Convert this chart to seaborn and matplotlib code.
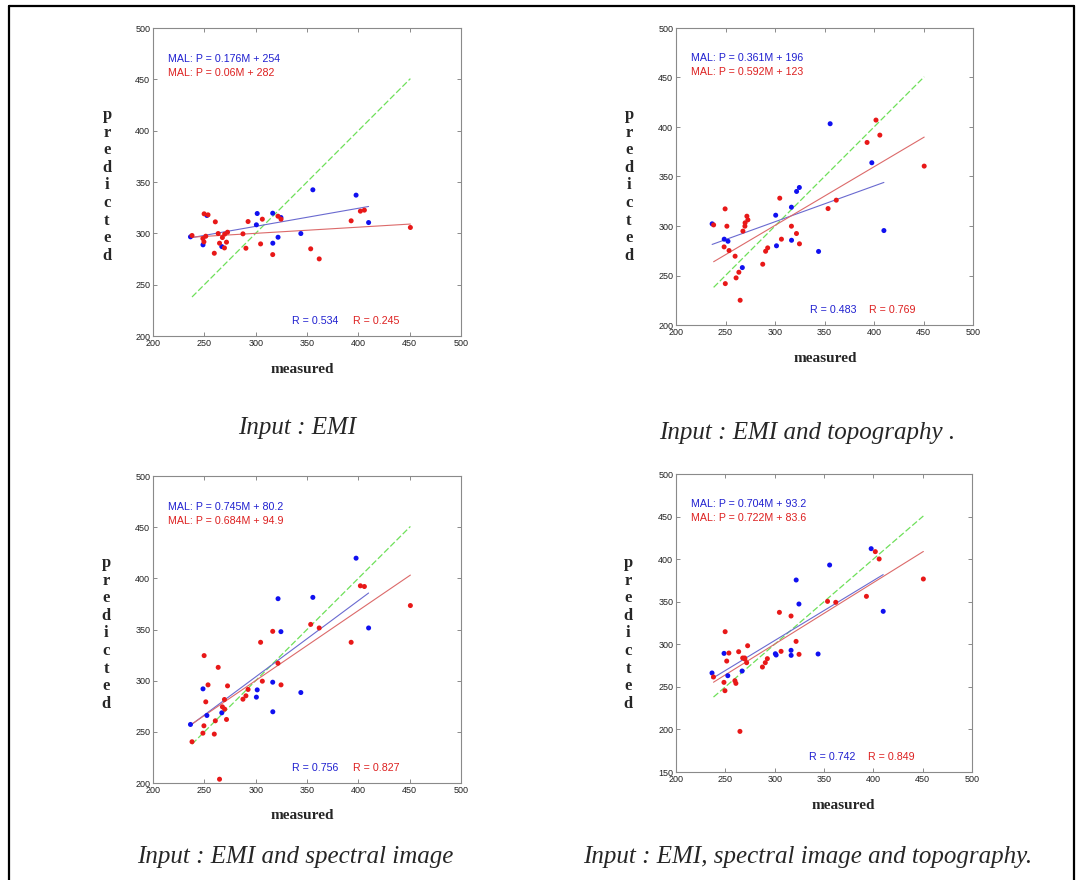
import numpy as np
import pandas as pd
import matplotlib
matplotlib.use("Agg")
import matplotlib.pyplot as plt
from matplotlib.lines import Line2D
import seaborn as sns

# ---------------- data ----------------
red_measured = [238, 248.6, 249.6, 249.8, 251.4, 253.6, 259.7, 260.7, 263.5, 264.8,
                267.6, 269.6, 269.8, 271.6, 272.6, 287.6, 290.5, 292.6, 304.8, 306.5,
                316.6, 321.7, 324.7, 353.6, 361.9, 393, 402, 405.9, 450.7]
blue_measured = [236.5, 248.7, 252.5, 267, 300.7, 301.5, 316.6, 316.7, 321.8, 324.6,
                 344, 355.7, 397.8, 410]

red_pred_emi = [297.9, 294.9, 291.7, 319, 297.2, 318, 280.6, 311.2, 299.8, 290.4,
                295.9, 285.8, 299.2, 291.4, 301.1, 299.5, 285.5, 311.5, 289.7, 313.8,
                279.3, 316.7, 313.8, 284.9, 275.1, 312.2, 321.6, 322.6, 305.7]
blue_pred_emi = [296.6, 288.8, 317.4, 287.1, 308.3, 319.3, 319.6, 290.4, 296.2, 315.4,
                 299.8, 342.4, 337.2, 310.5]

red_pred_topo = [301.1, 278.9, 317.3, 241.8, 299.8, 275.2, 269.5, 247.6, 253.3, 225,
                 294.8, 299.8, 303.2, 309.9, 306.2, 261.4, 274.5, 277.9, 328.1, 286.7,
                 299.8, 292.4, 282, 317.6, 326.1, 384.4, 407, 391.8, 360.5]
blue_pred_topo = [302.2, 286.7, 284.6, 258, 310.9, 280, 319, 285.6, 334.9, 338.9,
                  274.3, 403.3, 363.9, 295.4]

red_pred_spec = [240.3, 248.7, 255.9, 324.5, 279.3, 295.9, 247.8, 260.8, 313, 203.7,
                 274.4, 281.6, 272.2, 262.1, 294.9, 281.9, 285.2, 291.4, 337.5, 299.5,
                 348.2, 317, 295.9, 355, 351.5, 337.5, 392.7, 392, 373.4]
blue_pred_spec = [257.2, 292.0, 266, 268.6, 283.9, 291, 298.5, 269.6, 380.1, 347.9,
                  288.4, 381.4, 419.7, 351.5]

red_pred_all = [261.6, 255.3, 245.5, 314.8, 280.3, 289.7, 257.2, 254.1, 291.3, 197.7,
                283.9, 283.9, 282.7, 278.4, 298.3, 273.3, 278.4, 283.1, 337.5, 291.7,
                333.2, 303.4, 288.2, 350.4, 349.3, 356.3, 408.8, 400.2, 376.7]
blue_pred_all = [266.3, 289.3, 263.1, 268.6, 288.9, 287.4, 292.9, 287, 375.5, 347.3,
                 288.6, 393.1, 412.3, 338.7]

blue_slopes = [0.176, 0.361, 0.745, 0.704]
blue_intercepts = [254, 196, 80.2, 93.2]
red_slopes = [0.06, 0.592, 0.684, 0.722]
red_intercepts = [282, 123, 94.9, 83.6]
blue_r = [0.534, 0.483, 0.756, 0.742]
red_r = [0.245, 0.769, 0.827, 0.849]
blue_eq = ["MAL: P = 0.176M + 254", "MAL: P = 0.361M + 196",
           "MAL: P = 0.745M + 80.2", "MAL: P = 0.704M + 93.2"]
red_eq = ["MAL: P = 0.06M + 282", "MAL: P = 0.592M + 123",
          "MAL: P = 0.684M + 94.9", "MAL: P = 0.722M + 83.6"]
captions = ["Input : EMI", "Input : EMI and topography .",
            "Input : EMI and spectral image", "Input : EMI, spectral image and topography."]
x_ticks = [200, 250, 300, 350, 400, 450, 500]
y_ranges = [(200, 500), (200, 500), (200, 500), (150, 500)]

red_preds = [red_pred_emi, red_pred_topo, red_pred_spec, red_pred_all]
blue_preds = [blue_pred_emi, blue_pred_topo, blue_pred_spec, blue_pred_all]

# ---------------- style ----------------
sns.set_theme(style="white")
plt.rcParams["font.family"] = ["Liberation Sans", "DejaVu Sans"]

W, H = 1083, 880
fig = plt.figure(figsize=(W / 100, H / 100), dpi=100)

def fx(px):
    return px / W

def fy(py):
    return 1 - py / H

# axes rectangles in pixels: left, top, right, bottom
rects_px = [(153, 28, 461, 336), (676, 28, 973, 325),
            (153, 476, 461, 783), (676, 474, 972, 772)]
ylab_pos = [(107, 119), (629, 119), (106, 567), (628, 567)]
xlab_pos = [(302, 369), (825, 358), (302, 815), (843, 805)]
cap_pos = [(297, 428), (807, 433), (295, 857), (808, 857)]

BLUE_PT = "#1010f0"
RED_PT = "#e81818"
BLUE_LN = "#6a6ad0"
RED_LN = "#dc6a6a"
GREEN_LN = "#6ee05a"
BLUE_TX = "#2020d0"
RED_TX = "#dd2020"

for i in range(4):
    l, t, r, b = rects_px[i]
    ax = fig.add_axes([fx(l), fy(b), fx(r - l), (b - t) / H])
    df = pd.DataFrame({
        "measured": blue_measured + red_measured,
        "predicted": blue_preds[i] + red_preds[i],
        "set": ["blue"] * len(blue_measured) + ["red"] * len(red_measured),
    })
    # identity line
    gx = np.array([min(red_measured), max(red_measured)])
    ax.plot(gx, gx, color=GREEN_LN, lw=0.9, ls=(0, (5, 2)), zorder=2)
    # regression lines
    bx = np.array([min(blue_measured), max(blue_measured)])
    rx = np.array([min(red_measured), max(red_measured)])
    sns.lineplot(x=bx, y=blue_slopes[i] * bx + blue_intercepts[i], color=BLUE_LN,
                 lw=0.8, ax=ax, zorder=2)
    sns.lineplot(x=rx, y=red_slopes[i] * rx + red_intercepts[i], color=RED_LN,
                 lw=0.8, ax=ax, zorder=2)
    sns.scatterplot(data=df, x="measured", y="predicted", hue="set",
                    palette={"blue": BLUE_PT, "red": RED_PT}, s=13, linewidth=0,
                    legend=False, ax=ax, zorder=3)
    ax.set_xlim(200, 500)
    ax.set_ylim(*y_ranges[i])
    ax.set_xticks(x_ticks)
    ax.set_yticks(np.arange(y_ranges[i][0], 501, 50))
    ax.set_xlabel("")
    ax.set_ylabel("")
    ax.tick_params(direction="in", length=3, width=0.6, color="#777777",
                   top=True, right=True, bottom=True, left=True,
                   labelsize=6.5, labelcolor="#222222", pad=2)
    for sp in ax.spines.values():
        sp.set_color("#8a8a8a")
        sp.set_linewidth(0.8)

    ax.text(0.05, 0.90, blue_eq[i], transform=ax.transAxes, color=BLUE_TX,
            fontsize=7.7, va="center", ha="left")
    ax.text(0.05, 0.853, red_eq[i], transform=ax.transAxes, color=RED_TX,
            fontsize=7.7, va="center", ha="left")
    ax.text(0.45, 0.05, f"R = {blue_r[i]:.3f}", transform=ax.transAxes,
            color=BLUE_TX, fontsize=7.7, va="center", ha="left")
    ax.text(0.65, 0.05, f"R = {red_r[i]:.3f}", transform=ax.transAxes,
            color=RED_TX, fontsize=7.7, va="center", ha="left")

    # stacked y label
    lx, ly = ylab_pos[i]
    for k, ch in enumerate("predicted"):
        fig.text(fx(lx), fy(ly + 17.6 * k), ch, ha="center", va="baseline",
                 fontsize=12, fontweight="bold", family=["Liberation Serif", "DejaVu Serif"])
    mx, my = xlab_pos[i]
    fig.text(fx(mx), fy(my), "measured", ha="center", va="center", fontsize=11,
             fontweight="bold", family=["Liberation Serif", "DejaVu Serif"])
    cx, cy = cap_pos[i]
    fig.text(fx(cx), fy(cy), captions[i], ha="center", va="center", fontsize=18,
             style="italic", family=["Liberation Serif", "DejaVu Serif"])

# outer frame (left, top, right)
fig.add_artist(Line2D([fx(9), fx(9)], [0, fy(6)], color="black", lw=1.6))
fig.add_artist(Line2D([fx(9), fx(1074)], [fy(6), fy(6)], color="black", lw=1.6))
fig.add_artist(Line2D([fx(1074), fx(1074)], [fy(6), 0], color="black", lw=1.6))

fig.savefig("out.png", dpi=100)
